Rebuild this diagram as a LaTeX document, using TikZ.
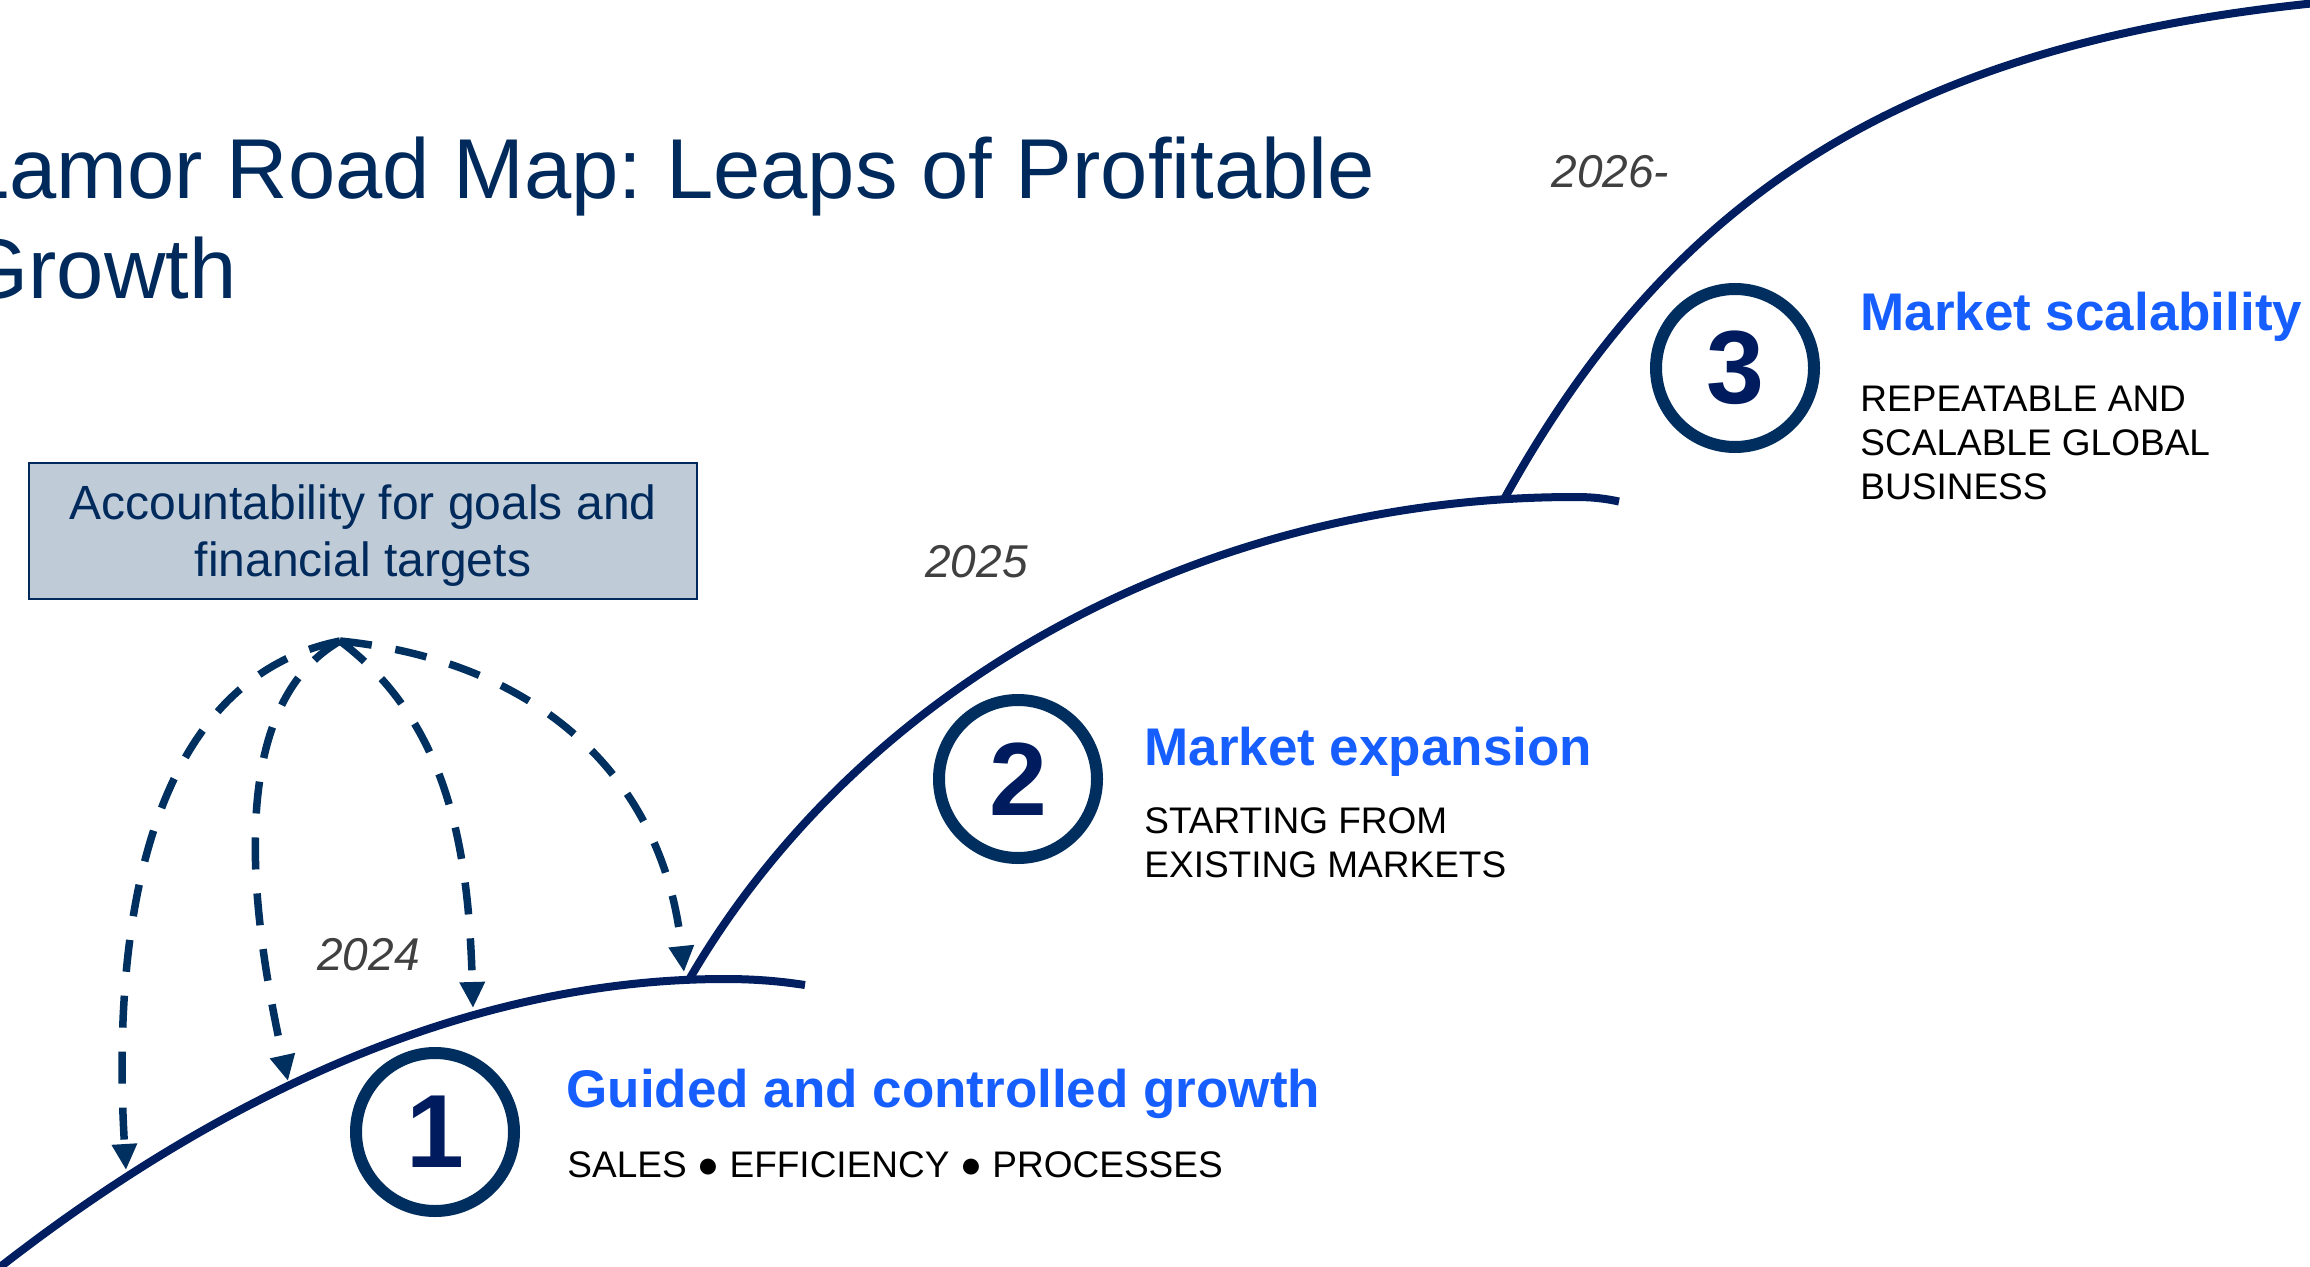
\documentclass[tikz,border=0pt]{standalone}
\usepackage{fontspec}
\setmainfont{Liberation Sans}
\usetikzlibrary{arrows.meta}
\frenchspacing

\definecolor{titlenavy}{RGB}{0,42,92}
\definecolor{pathnavy}{RGB}{0,30,96}
\definecolor{dashnavy}{RGB}{0,48,96}
\definecolor{ringnavy}{RGB}{0,46,94}
\definecolor{digitnavy}{RGB}{0,27,94}
\definecolor{headblue}{RGB}{23,94,255}
\definecolor{yeargray}{RGB}{64,64,64}
\definecolor{boxfill}{RGB}{192,203,216}

\begin{document}
\begin{tikzpicture}[x=0.5pt,y=-0.5pt,
  road/.style={draw=pathnavy, line width=4pt},
  feedback/.style={draw=dashnavy, line width=3.75pt, dash pattern=on 16pt off 12pt,
    -{Triangle[length=13pt,width=12pt]}},
  stage/.style={circle, draw=ringnavy, line width=6pt, minimum size=79pt, inner sep=0pt,
    text=digitnavy, font=\fontsize{52}{52}\selectfont\bfseries},
  heading/.style={anchor=base west, inner sep=0pt, text=headblue,
    font=\fontsize{26.5}{30}\selectfont\bfseries},
  detail/.style={anchor=base west, inner sep=0pt, align=left, text=black,
    font=\fontsize{18.5}{22}\selectfont},
  year/.style={anchor=base west, inner sep=0pt, text=yeargray,
    font=\fontsize{23}{26}\selectfont\itshape},
]
\useasboundingbox (0,0) rectangle (2310,1267);
\fill[white] (0,0) rectangle (2310,1267);
\clip (0,0) rectangle (2310,1267);

% title (multi-line nodes are anchored on their last baseline)
\node[anchor=base west, inner sep=0pt, align=left, text=titlenavy,
  font=\fontsize{42.5}{50}\selectfont] (title) at (-38,299)
  {Lamor Road Map: Leaps of Profitable\\Growth};

% accountability box (the strut lowers the two lines a little)
\node[draw=titlenavy, line width=1pt, fill=boxfill, minimum width=334pt,
  minimum height=68pt, inner sep=0pt, align=center, text=titlenavy,
  font=\fontsize{24}{28.5}\selectfont] (goals) at (363,531)
  {\rule{0pt}{21.5pt}Accountability for goals and\\financial targets};

% junctions of the three growth curves
\coordinate (j12) at (689.6,978.7);
\coordinate (j23) at (1505,497.5);

% growth curves
\draw[road] (-12,1276.5) .. controls (240,1077) and (490,979) .. (725,979)
  .. controls (760,979) and (785,982) .. (805,985);
\draw[road] (j12) .. controls (862.4,682.5) and (1203.3,497) .. (1575,497)
  .. controls (1595,497) and (1607,499) .. (1619,501.5);
\draw[road] (j23) .. controls (1675,190) and (1910,43.6) .. (2320,2.6);

% feedback arrows from the accountability hub
\coordinate (hub) at (340,641);
\coordinate (tA) at (126,1170);
\coordinate (tB) at (288,1081);
\coordinate (tC) at (473,1008);
\coordinate (tD) at (684,972);
\draw[feedback] (hub) .. controls (162.3,676.5) and (109.4,894) .. (tA);
\draw[feedback] (hub) .. controls (219.4,710.5) and (254.6,928.6) .. (tB);
\draw[feedback] (hub) .. controls (452.2,725.1) and (468.8,858.5) .. (tC);
\draw[feedback] (hub) .. controls (536.5,660.7) and (663.5,775.7) .. (tD);

% year labels
\node[year] (y1) at (317,970) {2024};
\node[year] (y2) at (925,577) {2025};
\node[year] (y3) at (1551,188) {2026-};

% stage markers
\node[stage] (s1) at (435,1132) {1};
\node[stage] (s2) at (1018,779) {2};
\node[stage] (s3) at (1735,368) {3};

% stage texts
\node[heading] (h1) at (566,1107) {Guided and controlled growth};
\node[detail] (d1) at (567,1177) {SALES ● EFFICIENCY ● PROCESSES};
\node[heading] (h2) at (1144,765) {Market expansion};
\node[detail] (d2) at (1144,877) {STARTING FROM\\EXISTING MARKETS};
\node[heading] (h3) at (1860,330) {Market scalability};
\node[detail] (d3) at (1860,499) {REPEATABLE AND\\SCALABLE GLOBAL\\BUSINESS};
\end{tikzpicture}
\end{document}
